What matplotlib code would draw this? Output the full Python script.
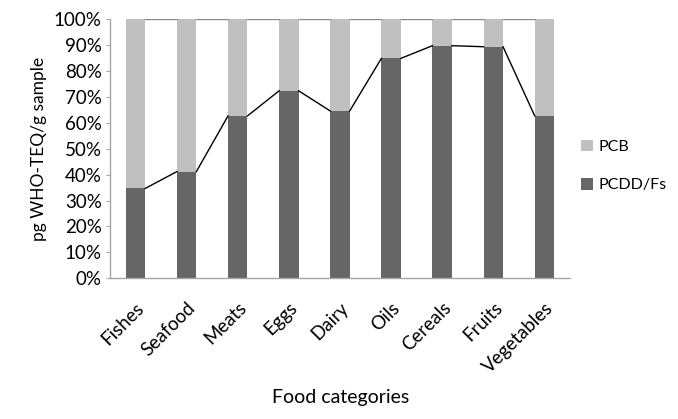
import matplotlib
matplotlib.use("Agg")
import matplotlib.pyplot as plt
import numpy as np
from matplotlib.patches import Patch
from matplotlib.ticker import PercentFormatter

plt.rcParams['font.family'] = ['Lato', 'DejaVu Sans']

categories = ["Fishes", "Seafood", "Meats", "Eggs", "Dairy", "Oils", "Cereals", "Fruits", "Vegetables"]
pcdd_fs = [34.7, 41.2, 62.7, 72.4, 64.6, 84.9, 89.8, 89.4, 62.7]
pcb = [100 - v for v in pcdd_fs]

dark = "#666666"
light = "#c0c0c0"
axis_gray = "#a6a6a6"

fig = plt.figure(figsize=(6.78, 4.19), dpi=100)
ax = fig.add_axes([0.1622, 0.3358, 0.6785, 0.6182])

x = np.arange(len(categories))
w = 0.38
ax.bar(x, pcdd_fs, width=w, color=dark, zorder=2)
ax.bar(x, pcb, width=w, bottom=pcdd_fs, color=light, zorder=2)

# series lines between the bar tops (Excel style)
tops = [a + b for a, b in zip(pcdd_fs, pcb)]
for i in range(len(categories) - 1):
    ax.plot([x[i] + w / 2, x[i + 1] - w / 2], [pcdd_fs[i], pcdd_fs[i + 1]],
            color="black", lw=1, zorder=3)
    ax.plot([x[i] + w / 2, x[i + 1] - w / 2], [tops[i], tops[i + 1]],
            color="#8a8a8a", lw=1, zorder=3)

ax.set_xlim(-0.5, len(categories) - 0.5)
ax.set_ylim(0, 100)
ax.set_yticks(np.arange(0, 101, 10))
ax.yaxis.set_major_formatter(PercentFormatter(decimals=0))

ax.set_xticks(x)
ax.set_xticklabels(categories, rotation=45, ha="right", rotation_mode="anchor", fontsize=13.5)
ax.tick_params(axis="x", length=0, pad=15)
ax.tick_params(axis="y", length=3, color=axis_gray, labelsize=13.5, pad=3)

for side in ("top", "right"):
    ax.spines[side].set_visible(False)
for side in ("left", "bottom"):
    ax.spines[side].set_color(axis_gray)
    ax.spines[side].set_linewidth(1)

ax.set_ylabel("pg WHO-TEQ/g sample", fontsize=12.5, labelpad=5)
fig.text(0.502, 1 - 397 / 419, "Food categories", fontsize=14, ha="center", va="center")

handles = [Patch(facecolor=light, label="PCB"), Patch(facecolor=dark, label="PCDD/Fs")]
ax.legend(handles=handles, loc="upper left", bbox_to_anchor=(1.01, 0.56),
          frameon=False, fontsize=11.5, handlelength=0.75, handleheight=0.75,
          handletextpad=0.35, labelspacing=1.5, borderaxespad=0)

fig.savefig("out.png", dpi=100, facecolor="white")
